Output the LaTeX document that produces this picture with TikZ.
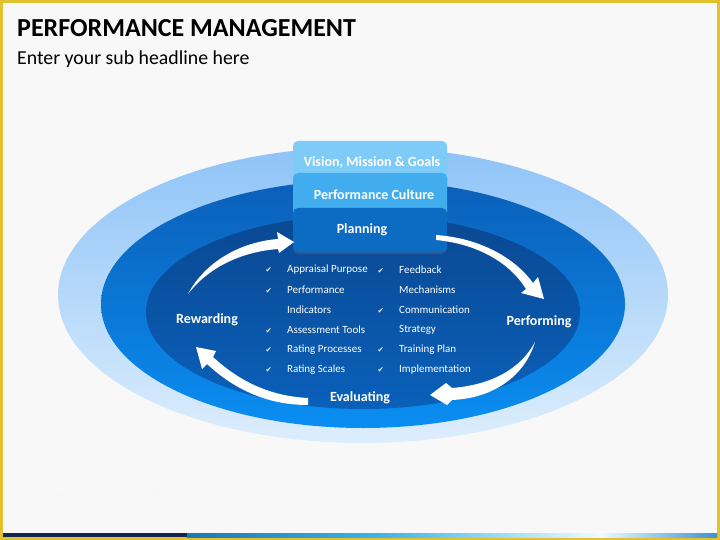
\documentclass[tikz,border=0pt]{standalone}
\usepackage{fontspec}
\setmainfont{Carlito}
\newfontfamily\symbolfont{DejaVu Sans}
\usetikzlibrary{shadows}
\definecolor{frameyellow}{HTML}{E0C22E}
\definecolor{pagebg}{HTML}{F8F8F8}
\definecolor{barnavy}{HTML}{15264C}
\definecolor{visionblue}{HTML}{7FCBF7}
\definecolor{cultureblue}{HTML}{41ADEF}
\definecolor{planblue}{HTML}{0C6BC3}
\newcommand{\chk}{\makebox[22pt][l]{\hspace{0.5pt}{\symbolfont\fontsize{7.5}{8}\selectfont ✔}}}
\newcommand{\nochk}{\hspace*{22pt}}

\begin{document}
\begin{tikzpicture}[x=1pt,y=-1pt,
  stage/.style={font=\bfseries\fontsize{14}{16}\selectfont, text=white, inner sep=0pt},
  item/.style={anchor=west, font=\fontsize{11}{13}\selectfont, text=white, inner sep=0pt},
  box/.style={rounded corners=5pt, minimum width=154pt, minimum height=44pt, inner sep=0pt,
    text=white, font=\bfseries\fontsize{14}{16}\selectfont,
    drop shadow={opacity=0.25, shadow xshift=0pt, shadow yshift=-2pt}},
  swoosh/.style={fill=white}]
  \useasboundingbox (0,0) rectangle (720,540);
  \fill[frameyellow] (0,0) rectangle (720,540);
  \fill[pagebg] (3,3) rectangle (717,537);
  \fill[barnavy] (3,533) rectangle (187,537);
  \shade[left color={rgb,255:red,30;green,120;blue,175}, right color={rgb,255:red,62;green,180;blue,230}] (187,533) rectangle (380,537);
  \shade[left color={rgb,255:red,62;green,180;blue,230}, right color={rgb,255:red,240;green,250;blue,255}] (380,533) rectangle (600,537);
  \shade[left color={rgb,255:red,240;green,250;blue,255}, right color={rgb,255:red,60;green,145;blue,210}] (600,533) rectangle (717,537);

  \node[anchor=base west, inner sep=0pt, font=\bfseries\fontsize{26}{30}\selectfont] (title) at (17,37) {PERFORMANCE MANAGEMENT};
  \node[anchor=base west, inner sep=0pt, font=\fontsize{19.8}{23}\selectfont] (subtitle) at (17,65) {Enter your sub headline here};
  \node[anchor=west, inner sep=0pt, text=black!3, font=\fontsize{11}{13}\selectfont] (watermark) at (40,495) {www.heritagechristiancollege.com};

  % rings
  \shade[top color={rgb,255:red,142;green,195;blue,247}, bottom color={rgb,255:red,221;green,238;blue,253}]
    (363,295) ellipse [x radius=305, y radius=148];
  \shade[top color={rgb,255:red,11;green,95;blue,184}, bottom color={rgb,255:red,10;green,142;blue,242}]
    (363,304) ellipse [x radius=262, y radius=124];
  \shade[top color={rgb,255:red,10;green,72;blue,146}, bottom color={rgb,255:red,10;green,96;blue,186}]
    (363,312) ellipse [x radius=217, y radius=97];

  \node[box, fill=visionblue] (vision) at (370,163) {\hspace*{4pt}Vision, Mission \& Goals};
  \node[box, fill=cultureblue] (culture) at (370,195) {\hspace*{8pt}Performance Culture};
  \node[box, fill=planblue] (planning) at (370,230) {\hspace*{-16pt}Planning};

  \node[stage] (performing) at (539,322) {Performing};
  \node[stage] (evaluating) at (360,398) {Evaluating};
  \node[stage] (rewarding) at (207,320) {Rewarding};

  % swooshes
  \fill[swoosh] (188,294) .. controls (205,262) and (240,242) .. (278,239) -- (277,232) -- (294,242)
    -- (279,253) -- (278,249) .. controls (240,252) and (208,268) .. (188,294) -- cycle;
  \fill[swoosh] (436,235) .. controls (480,238) and (515,258) .. (533,283) -- (538,277) -- (544,299)
    -- (521,293) -- (526,289) .. controls (510,263) and (478,244) .. (436,240) -- cycle;
  \fill[swoosh] (535,342) .. controls (520,370) and (490,385) .. (452,388) -- (446,383) -- (430,395)
    -- (447,405) -- (452,400) .. controls (495,398) and (525,375) .. (535,342) -- cycle;
  \fill[swoosh] (308,398) .. controls (268,396) and (238,380) .. (213,357) -- (216,351) -- (196,347)
    -- (202,369) -- (207,364) .. controls (235,390) and (268,405) .. (308,405) -- cycle;

  \node[item] (purpose) at (265,270) {\chk Appraisal Purpose};
  \node[item] (indic1) at (265,290) {\chk Performance};
  \node[item] (indic2) at (265,310) {\nochk Indicators};
  \node[item] (tools) at (265,330) {\chk Assessment Tools};
  \node[item] (processes) at (265,350) {\chk Rating Processes};
  \node[item] (scales) at (265,370) {\chk Rating Scales};
  \node[item] (feedback1) at (377,270) {\chk Feedback};
  \node[item] (feedback2) at (377,290) {\nochk Mechanisms};
  \node[item] (comm1) at (377,310) {\chk Communication};
  \node[item] (comm2) at (377,330) {\nochk Strategy};
  \node[item] (training1) at (377,350) {\chk Training Plan};
  \node[item] (training2) at (377,370) {\chk Implementation};
\end{tikzpicture}
\end{document}
